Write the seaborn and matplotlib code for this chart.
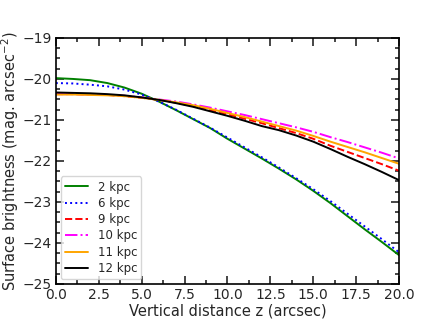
import numpy as np
import pandas as pd
import seaborn as sns
import matplotlib
matplotlib.use("Agg")
import matplotlib.pyplot as plt
from matplotlib.ticker import MultipleLocator

# surface brightness profiles, z = 0..20 arcsec
z = list(range(0, 21))
sb_2kpc = [-19.98, -20.00, -20.03, -20.10, -20.21, -20.36, -20.55, -20.76, -20.98, -21.20, -21.46,
           -21.70, -21.94, -22.19, -22.45, -22.73, -23.03, -23.35, -23.67, -23.98, -24.30]
sb_6kpc = [-20.10, -20.11, -20.14, -20.18, -20.26, -20.38, -20.55, -20.75, -20.97, -21.19, -21.43,
           -21.67, -21.91, -22.16, -22.42, -22.69, -22.98, -23.29, -23.60, -23.91, -24.23]
sb_9kpc = [-20.37, -20.37, -20.38, -20.39, -20.42, -20.46, -20.51, -20.58, -20.66, -20.76, -20.86,
           -20.97, -21.08, -21.20, -21.32, -21.46, -21.63, -21.78, -21.93, -22.08, -22.24]
sb_10kpc = [-20.37, -20.37, -20.38, -20.39, -20.41, -20.45, -20.50, -20.55, -20.62, -20.70, -20.79,
            -20.88, -20.98, -21.08, -21.18, -21.29, -21.42, -21.54, -21.67, -21.80, -21.94]
sb_11kpc = [-20.38, -20.38, -20.39, -20.40, -20.42, -20.46, -20.51, -20.57, -20.64, -20.73, -20.83,
            -20.93, -21.04, -21.15, -21.26, -21.39, -21.53, -21.66, -21.79, -21.93, -22.07]
sb_12kpc = [-20.33, -20.34, -20.35, -20.37, -20.40, -20.45, -20.51, -20.59, -20.68, -20.79, -20.90,
            -21.02, -21.15, -21.25, -21.38, -21.53, -21.71, -21.90, -22.08, -22.27, -22.47]

labels = ["2 kpc", "6 kpc", "9 kpc", "10 kpc", "11 kpc", "12 kpc"]
profiles = [sb_2kpc, sb_6kpc, sb_9kpc, sb_10kpc, sb_11kpc, sb_12kpc]
colors = ["green", "blue", "red", "magenta", "orange", "black"]
styles = ["-", ":", "--", "-.", "-", "-"]

sns.set_style("ticks")
plt.rcParams["font.family"] = ["DejaVu Sans"]
plt.rcParams["font.size"] = 10

fig = plt.figure(figsize=(4.43, 3.19), dpi=100)
ax = fig.add_axes([0.126, 0.110, 0.775, 0.771])

for lab, prof, c, ls in zip(labels, profiles, colors, styles):
    df = pd.DataFrame({"z": z, "sb": prof})
    sns.lineplot(data=df, x="z", y="sb", ax=ax, color=c, linestyle=ls,
                 linewidth=1.4, label=lab)

ax.set_xlim(0, 20)
ax.set_ylim(-25, -19)
ax.xaxis.set_major_locator(MultipleLocator(2.5))
ax.xaxis.set_minor_locator(MultipleLocator(1.25))
ax.yaxis.set_major_locator(MultipleLocator(1))
ax.yaxis.set_minor_locator(MultipleLocator(0.25))
ax.tick_params(which="both", direction="in", top=True, right=True, labelsize=10, width=1.2, pad=3)
ax.tick_params(which="major", length=6)
ax.tick_params(which="minor", length=3)
for s in ax.spines.values():
    s.set_linewidth(1.2)
    s.set_color("black")

ax.set_xlabel("Vertical distance z (arcsec)", fontsize=10.5, labelpad=1)
ax.set_ylabel("Surface brightness (mag. arcsec$^{-2}$)", fontsize=10.5, labelpad=1)
leg = ax.legend(loc="lower left", fontsize=8.5, frameon=True, borderaxespad=0.4,
                labelspacing=0.28, borderpad=0.35)
leg.get_frame().set_edgecolor("#cccccc")

fig.savefig("out.png", dpi=100)
